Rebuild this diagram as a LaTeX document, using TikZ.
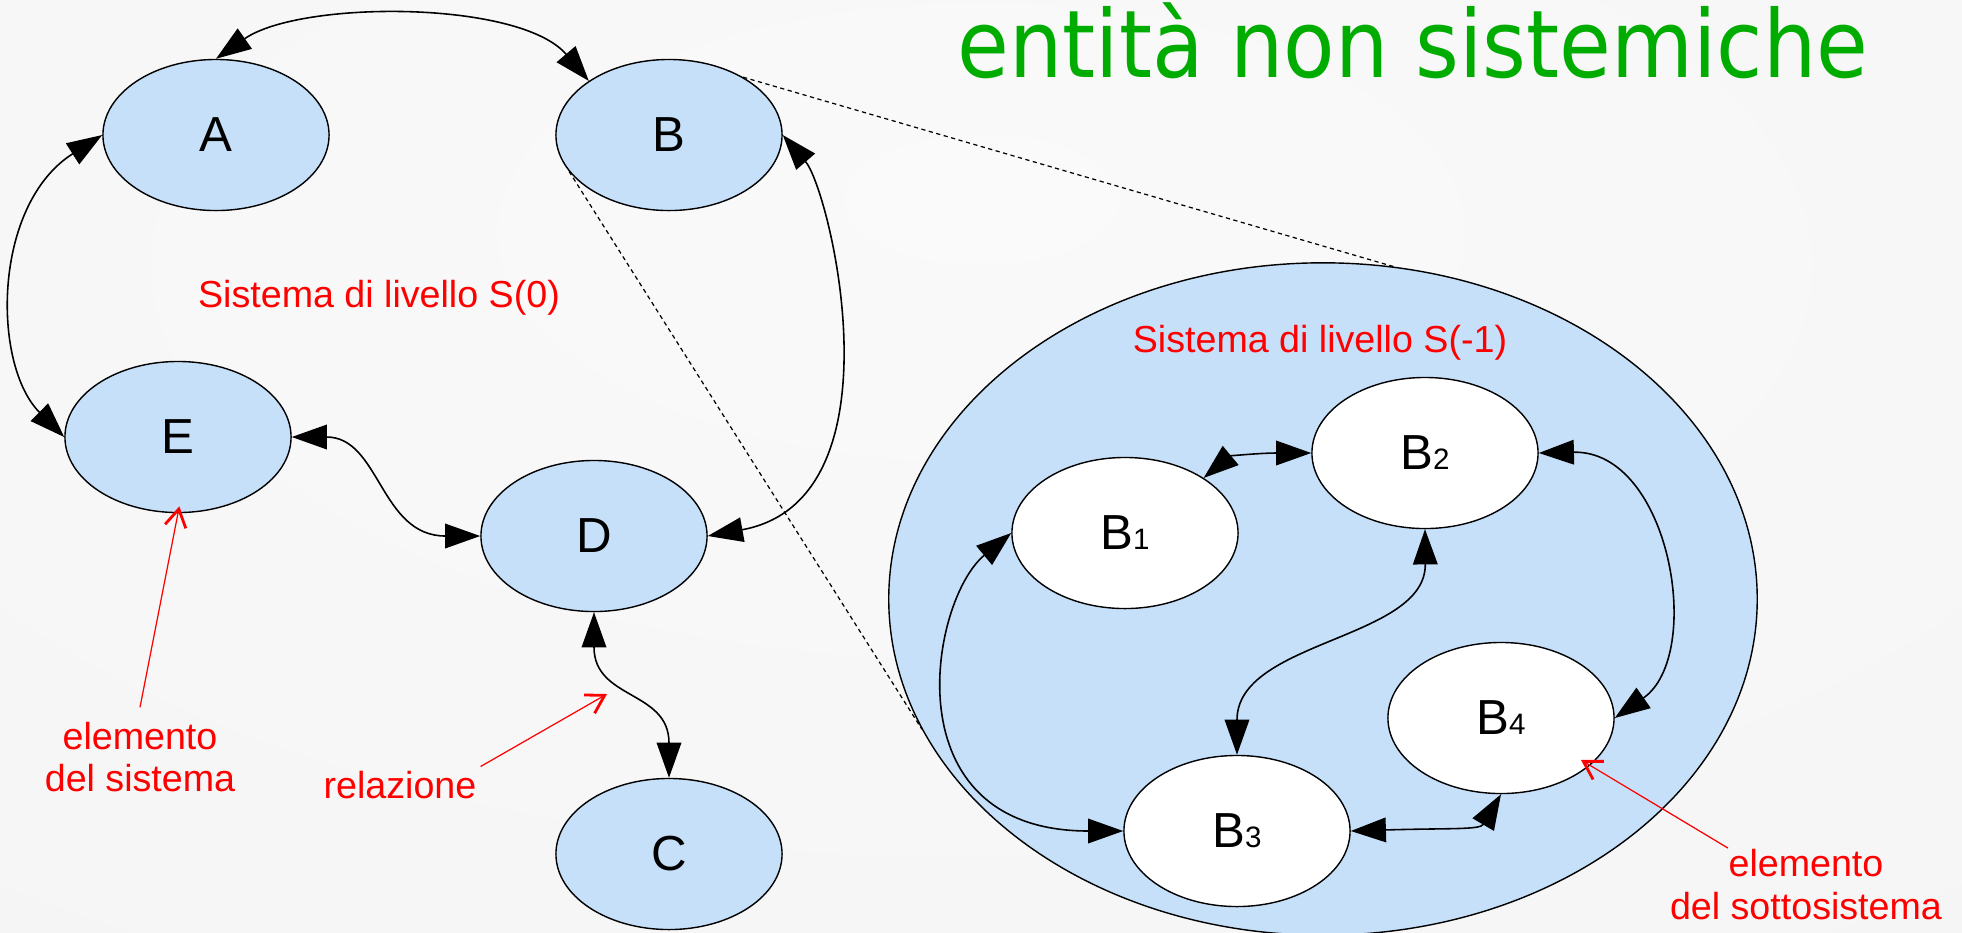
\documentclass[tikz,border=0pt]{standalone}
\usepackage{fontspec}
\setmainfont{Liberation Sans}
\newfontfamily\titlefont[FakeStretch=0.9]{DejaVu Sans}
\usetikzlibrary{shapes,arrows.meta,calc}
\definecolor{paleblue}{RGB}{198,224,249}
\definecolor{titlegreen}{RGB}{0,172,0}
\pgfdeclareradialshading{vignette}{\pgfpoint{0bp}{15bp}}{color(0bp)=(white!98!black); color(45bp)=(white!96!black); color(75bp)=(white!85!black)}
\newcommand{\subidx}[1]{\scalebox{0.6}{#1}}
\tikzset{elem/.style={draw, ellipse, fill=paleblue, line width=0.4pt, minimum width=2.26cm, minimum height=1.51cm, inner sep=0pt, font=\fontsize{14}{16}\selectfont}}
\tikzset{subelem/.style={elem, fill=white}}
\tikzset{lbl/.style={text=red, inner sep=1pt, font=\fontsize{10.7}{12}\selectfont}}
\tikzset{rel/.style={draw, line width=0.45pt, >={Triangle[length=10pt,width=7pt]}, <->}}
\tikzset{note/.style={draw=red, line width=0.35pt, -{Straight Barb[length=5pt,width=6pt,line width=0.8pt]}}}
\tikzset{zoomline/.style={draw, line width=0.35pt, dash pattern=on 1.2pt off 1pt}}

\begin{document}
\begin{tikzpicture}[x=0.01cm, y=-0.01cm]

\useasboundingbox (0,0) rectangle (1962,932);
\shade [shading=vignette] (0,0) rectangle (1962,932);

\node [anchor=base, text=titlegreen, font=\titlefont\fontsize{26.6}{30}\selectfont] (title) at (1413,77) {entità non sistemiche};

%SISTEMA S(0)
\node [elem] (A) at (216,135) {A};
\node [elem] (B) at (669,135) {B};
\node [elem] (E) at (178,437) {E};
\node [elem] (D) at (594,536) {D};
\node [elem] (C) at (669,854) {C};
\node [lbl, anchor=base] (lblS0) at (379,307) {Sistema di livello S(0)};

%SOTTOSISTEMA S(-1)
\node [elem, minimum width=8.68cm, minimum height=6.72cm] (sub) at (1323,599) {};
\node [lbl, anchor=base] (lblS1) at (1320,352) {Sistema di livello S(-1)};
\node [subelem] (B1) at (1125,533) {B\subidx{1}};
\node [subelem] (B2) at (1425,453) {B\subidx{2}};
\node [subelem] (B3) at (1237,831) {B\subidx{3}};
\node [subelem] (B4) at (1501,718) {B\subidx{4}};

%ZOOM
\path [zoomline] (B.38) -- (sub.78);
\path [zoomline] (B.200) -- (sub.198);

%RELAZIONI S(0)
\path [rel] (A.north) .. controls (300,0) and (520,0) .. (B.146);
\path [rel] (A.west) .. controls (-8,205) and (-8,365) .. (E.west);
\path [rel] (B.east) .. controls (830,190) and (905,500) .. (D.east);
\path [rel] (E.east) .. controls (380,437) and (380,536) .. (D.west);
\path [rel] (D.south) .. controls (594,700) and (669,690) .. (C.north);

%RELAZIONI S(-1)
\path [rel] (B1.35) .. controls (1230,456) and (1260,453) .. (B2.west);
\path [rel] (B1.west) .. controls (930,600) and (889,831) .. (B3.west);
\path [rel] (B2.south) .. controls (1426,640) and (1237,640) .. (B3.north);
\path [rel] (B2.east) .. controls (1670,450) and (1705,655) .. (B4.east);
\path [rel] (B3.east) .. controls (1450,828) and (1480,830) .. (B4.south);

%LEGENDA
\node [lbl, align=center, inner sep=4pt] (lblE) at (140,757) {elemento\\del sistema};
\node [lbl, anchor=base] (lblRel) at (400,798) {relazione};
\node [lbl, anchor=base, inner sep=0pt] (lblSub) at (1806,876) {elemento};
\node [lbl, anchor=base] (lblSub2) at (1806,919) {del sottosistema};
\coordinate (relpt) at (607,694);

\path [note, shorten >=-2pt] (lblE.north) -- (E.south);
\path [note] (lblRel.north east) -- (relpt);
\path [note, shorten >=-3pt] (lblSub.north west) -- (B4.-28);

\end{tikzpicture}
\end{document}
